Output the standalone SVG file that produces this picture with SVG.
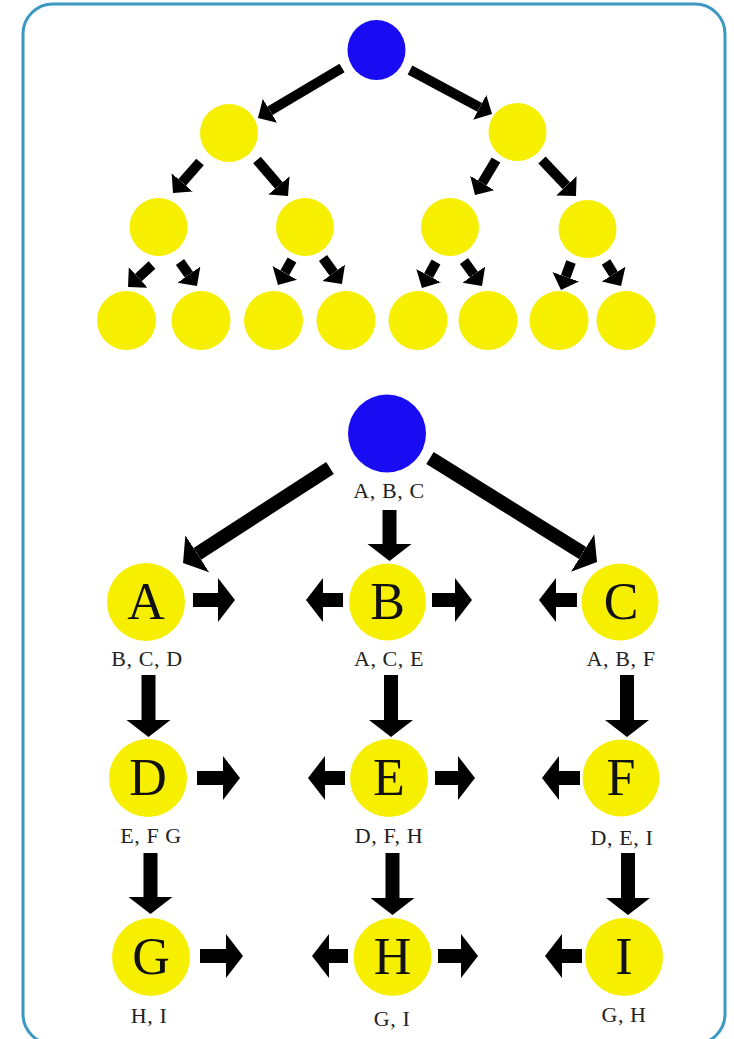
<svg xmlns="http://www.w3.org/2000/svg" width="734" height="1039" viewBox="0 0 734 1039">
  <style>
    .frame { fill: #ffffff; stroke: #3a98c1; stroke-width: 3; }
    .root { fill: #1a0cf2; }
    .leaf { fill: #f7ef00; }
    .arr-s { stroke: #000; stroke-width: 10; fill: none; marker-end: url(#head-s); }
    .arr-l { stroke: #000; stroke-width: 14; fill: none; marker-end: url(#head-l); }
    .letter { font-family: "Liberation Serif", "DejaVu Serif", serif; font-size: 52px; fill: #111; text-anchor: middle; }
    .list { font-family: "Liberation Serif", "DejaVu Serif", serif; font-size: 22px; letter-spacing: 0.6px; fill: #222; text-anchor: middle; }
  </style>
  <defs>
    <marker id="head-s" markerUnits="userSpaceOnUse" markerWidth="16" markerHeight="30" refX="0" refY="14" orient="auto">
      <path d="M0,0 L14,14 L0,28 Z" fill="#000"/>
    </marker>
    <marker id="head-l" markerUnits="userSpaceOnUse" markerWidth="19" markerHeight="46" refX="0" refY="22" orient="auto">
      <path d="M0,0 L17,22 L0,44 Z" fill="#000"/>
    </marker>
  </defs>

  <rect class="frame" x="23" y="4" width="702" height="1040" rx="30" ry="30"/>

  <!-- connectors -->
  <g id="connectors">
    <!-- binary tree -->
    <line class="arr-s" x1="342" y1="68" x2="270" y2="110.8"/>
    <line class="arr-s" x1="410" y1="70" x2="479.7" y2="107.4"/>
    <line class="arr-s" x1="200" y1="162" x2="182.2" y2="182.4"/>
    <line class="arr-s" x1="257" y1="160" x2="278.9" y2="185.4"/>
    <line class="arr-s" x1="496" y1="160" x2="482.2" y2="183"/>
    <line class="arr-s" x1="542" y1="160" x2="566.4" y2="185.8"/>
    <line class="arr-s" x1="152" y1="265" x2="138.3" y2="277.6"/>
    <line class="arr-s" x1="180" y1="262" x2="188.9" y2="274.6"/>
    <line class="arr-s" x1="292" y1="260" x2="284.8" y2="272.8"/>
    <line class="arr-s" x1="323" y1="258" x2="333.7" y2="272.7"/>
    <line class="arr-s" x1="436" y1="262" x2="428.6" y2="275.7"/>
    <line class="arr-s" x1="464" y1="261" x2="473.8" y2="274.6"/>
    <line class="arr-s" x1="571" y1="262" x2="565.7" y2="276.8"/>
    <line class="arr-s" x1="606" y1="262" x2="613.6" y2="274.1"/>

    <!-- grid graph: from the source -->
    <line class="arr-l" x1="330" y1="468" x2="197.3" y2="553.8"/>
    <line class="arr-l" x1="389.5" y1="510" x2="389.5" y2="544"/>
    <line class="arr-l" x1="430" y1="458" x2="582.6" y2="553"/>

    <!-- vertical -->
    <line class="arr-l" x1="148.5" y1="675" x2="148.5" y2="720"/>
    <line class="arr-l" x1="391" y1="675" x2="391" y2="720"/>
    <line class="arr-l" x1="627" y1="675" x2="627" y2="720"/>
    <line class="arr-l" x1="150.5" y1="853" x2="150.5" y2="897"/>
    <line class="arr-l" x1="392.5" y1="853" x2="392.5" y2="898"/>
    <line class="arr-l" x1="628" y1="853" x2="628" y2="898"/>

    <!-- horizontal, row 1 -->
    <line class="arr-l" x1="193" y1="600" x2="218" y2="600"/>
    <line class="arr-l" x1="343" y1="600" x2="323" y2="600"/>
    <line class="arr-l" x1="432" y1="600" x2="455" y2="600"/>
    <line class="arr-l" x1="577" y1="600" x2="556" y2="600"/>
    <!-- row 2 -->
    <line class="arr-l" x1="197" y1="778" x2="223" y2="778"/>
    <line class="arr-l" x1="345" y1="778" x2="325" y2="778"/>
    <line class="arr-l" x1="435" y1="778" x2="458" y2="778"/>
    <line class="arr-l" x1="580" y1="778" x2="559" y2="778"/>
    <!-- row 3 -->
    <line class="arr-l" x1="200" y1="956" x2="226" y2="956"/>
    <line class="arr-l" x1="348" y1="956" x2="329" y2="956"/>
    <line class="arr-l" x1="438" y1="956" x2="461" y2="956"/>
    <line class="arr-l" x1="582" y1="956" x2="562" y2="956"/>
  </g>

  <!-- binary tree nodes -->
  <g id="tree-root"><ellipse class="root" cx="376.5" cy="50" rx="29" ry="30"/></g>
  <g id="tree-l1a"><circle class="leaf" cx="229" cy="133" r="29"/></g>
  <g id="tree-l1b"><circle class="leaf" cx="517.5" cy="132" r="29"/></g>
  <g id="tree-l2a"><circle class="leaf" cx="158.5" cy="227" r="29"/></g>
  <g id="tree-l2b"><circle class="leaf" cx="305" cy="227" r="29"/></g>
  <g id="tree-l2c"><circle class="leaf" cx="450" cy="227" r="29"/></g>
  <g id="tree-l2d"><circle class="leaf" cx="587.5" cy="229" r="29"/></g>
  <g id="tree-l3a"><circle class="leaf" cx="126.5" cy="320.5" r="29.5"/></g>
  <g id="tree-l3b"><circle class="leaf" cx="201" cy="320.5" r="29.5"/></g>
  <g id="tree-l3c"><circle class="leaf" cx="273.5" cy="320.5" r="29.5"/></g>
  <g id="tree-l3d"><circle class="leaf" cx="346" cy="320.5" r="29.5"/></g>
  <g id="tree-l3e"><circle class="leaf" cx="418" cy="320.5" r="29.5"/></g>
  <g id="tree-l3f"><circle class="leaf" cx="488" cy="320.5" r="29.5"/></g>
  <g id="tree-l3g"><circle class="leaf" cx="559" cy="320.5" r="29.5"/></g>
  <g id="tree-l3h"><circle class="leaf" cx="626" cy="320.5" r="29.5"/></g>

  <!-- grid graph nodes -->
  <g id="grid-source">
    <circle class="root" cx="387" cy="433.5" r="39"/>
    <text class="list" x="389" y="498">A, B, C</text>
  </g>
  <g id="node-A">
    <circle class="leaf" cx="146" cy="602" r="39"/>
    <text class="letter" x="146" y="619">A</text>
    <text class="list" x="147" y="666">B, C, D</text>
  </g>
  <g id="node-B">
    <circle class="leaf" cx="387.5" cy="602" r="38.5"/>
    <text class="letter" x="387.5" y="619">B</text>
    <text class="list" x="389" y="666">A, C, E</text>
  </g>
  <g id="node-C">
    <circle class="leaf" cx="620" cy="602" r="38.5"/>
    <text class="letter" x="621" y="619">C</text>
    <text class="list" x="621" y="666">A, B, F</text>
  </g>
  <g id="node-D">
    <circle class="leaf" cx="148" cy="778" r="39"/>
    <text class="letter" x="148" y="795">D</text>
    <text class="list" x="151" y="843">E, F G</text>
  </g>
  <g id="node-E">
    <circle class="leaf" cx="389" cy="778" r="39"/>
    <text class="letter" x="389" y="795">E</text>
    <text class="list" x="389" y="843">D, F, H</text>
  </g>
  <g id="node-F">
    <circle class="leaf" cx="621" cy="778" r="38.5"/>
    <text class="letter" x="621" y="795">F</text>
    <text class="list" x="622" y="845">D, E, I</text>
  </g>
  <g id="node-G">
    <circle class="leaf" cx="151" cy="957" r="39"/>
    <text class="letter" x="151" y="974">G</text>
    <text class="list" x="149" y="1023">H, I</text>
  </g>
  <g id="node-H">
    <circle class="leaf" cx="392.5" cy="957" r="39"/>
    <text class="letter" x="392.5" y="974">H</text>
    <text class="list" x="392" y="1026">G, I</text>
  </g>
  <g id="node-I">
    <circle class="leaf" cx="624" cy="957" r="39"/>
    <text class="letter" x="624" y="974">I</text>
    <text class="list" x="624" y="1022">G, H</text>
  </g>
</svg>
